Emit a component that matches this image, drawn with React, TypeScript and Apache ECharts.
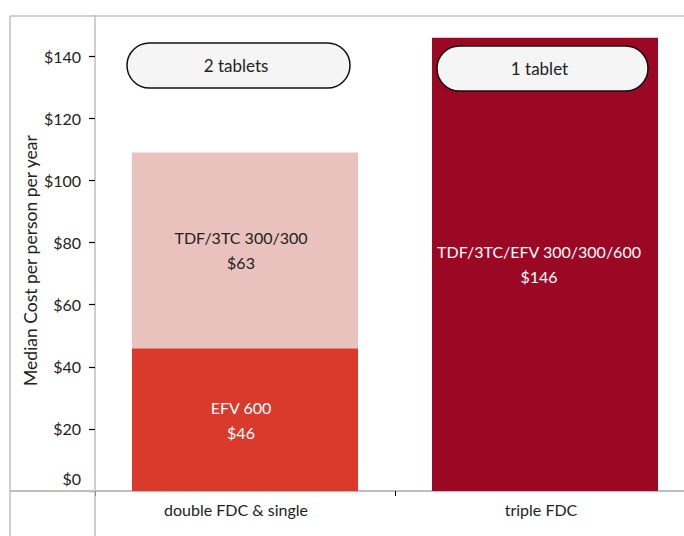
import React, { useEffect, useRef } from "react";
import * as echarts from "echarts";

const categories = ["double FDC & single", "triple FDC"];
const efvValues: (number | string)[] = [46, "-"];
const dualValues: (number | string)[] = [63, "-"];
const tripleValues: (number | string)[] = ["-", 146];
const seriesNames = ["EFV 600", "TDF/3TC 300/300", "TDF/3TC/EFV 300/300/600"];
const yTicks = [0, 20, 40, 60, 80, 100, 120, 140];
const pillTexts = ["2 tablets", "1 tablet"];

const FONT = "Lato, 'Open Sans', sans-serif";

export default function App() {
  const ref = useRef<HTMLDivElement>(null);
  useEffect(() => {
    document.body.style.margin = "0";
    const chart = echarts.init(ref.current!, null, { renderer: "svg" });
    const label = (color: string, dx: number) => ({
      show: true,
      position: "inside" as const,
      color,
      fontFamily: FONT,
      fontSize: 16,
      lineHeight: 25,
      offset: [dx, 0],
      formatter: (p: any) => `${p.seriesName}\n$${p.value}`,
    });
    const gray = "#bfbfbf";
    chart.setOption({
      animation: false,
      backgroundColor: "#ffffff",
      grid: {
        left: 95,
        width: 600,
        top: 16,
        bottom: 45,
        containLabel: false,
        outerBoundsMode: "none",
      },
      xAxis: {
        type: "category",
        data: [
          { value: categories[0], textStyle: { padding: [0, 18, 0, 0] } },
          { value: categories[1], textStyle: { padding: [0, 8, 0, 0] } },
        ],
        axisLine: { show: true, lineStyle: { color: gray, width: 2 } },
        axisTick: { show: true, length: 5, lineStyle: { color: "#000", width: 1 } },
        axisLabel: { color: "#222", fontFamily: FONT, fontSize: 16, margin: 10 },
      },
      yAxis: {
        type: "value",
        min: 0,
        max: 153,
        interval: 20,
        name: "Median Cost per person per year",
        nameLocation: "middle",
        nameGap: 56,
        nameMoveOverlap: false,
        nameTextStyle: { color: "#222", fontFamily: FONT, fontSize: 17.5, padding: [0, 0, 0, -14] },
        splitLine: { show: false },
        axisLine: { show: true, lineStyle: { color: gray, width: 1.5 } },
        axisTick: {
          show: true,
          length: 6,
          customValues: yTicks,
          lineStyle: { color: "#000", width: 1.2 },
        },
        axisLabel: {
          customValues: yTicks,
          color: "#222",
          fontFamily: FONT,
          fontSize: 16,
          margin: 14,
          formatter: (v: number) => (v === 0 ? "{z|$0}" : `$${v}`),
          rich: { z: { fontFamily: FONT, fontSize: 16, color: "#222", padding: [0, 0, 26, 0] } },
        },
      },
      series: [
        {
          name: seriesNames[0],
          type: "bar",
          stack: "total",
          barWidth: 226,
          data: efvValues,
          itemStyle: { color: "#da3a2c" },
          label: label("#ffffff", -4),
        },
        {
          name: seriesNames[1],
          type: "bar",
          stack: "total",
          barWidth: 226,
          data: dualValues,
          itemStyle: { color: "#e9c2bd" },
          label: label("#222222", -4),
        },
        {
          name: seriesNames[2],
          type: "bar",
          stack: "total",
          barWidth: 226,
          data: tripleValues,
          itemStyle: { color: "#9b0824" },
          label: label("#ffffff", -6),
        },
      ],
      graphic: [
        {
          type: "group",
          z: 100,
          children: [
            { type: "line", z: 100, shape: { x1: 10, y1: 16, x2: 684, y2: 16 }, style: { stroke: gray, lineWidth: 1.5 } },
            { type: "line", z: 100, shape: { x1: 10, y1: 16, x2: 10, y2: 536 }, style: { stroke: gray, lineWidth: 1.5 } },
            { type: "line", z: 100, shape: { x1: 95, y1: 491, x2: 95, y2: 536 }, style: { stroke: gray, lineWidth: 1.5 } },
            { type: "line", z: 100, shape: { x1: 10, y1: 491, x2: 95, y2: 491 }, style: { stroke: gray, lineWidth: 2 } },
            {
              type: "rect",
              z: 100,
              shape: { x: 127, y: 43, width: 223, height: 45, r: 22.5 },
              style: { fill: "#f5f5f5", stroke: "#111", lineWidth: 1.5 },
            },
            {
              type: "text",
              z: 101,
              x: 236,
              y: 65.5,
              style: { text: pillTexts[0], fill: "#222", font: `17px ${FONT}`, align: "center", verticalAlign: "middle" },
            },
            {
              type: "rect",
              z: 100,
              shape: { x: 437, y: 46, width: 211, height: 45, r: 22.5 },
              style: { fill: "#f5f5f5", stroke: "#111", lineWidth: 1.5 },
            },
            {
              type: "text",
              z: 101,
              x: 539.5,
              y: 68.5,
              style: { text: pillTexts[1], fill: "#222", font: `17px ${FONT}`, align: "center", verticalAlign: "middle" },
            },
          ],
        },
      ],
    });
    return () => chart.dispose();
  }, []);
  return <div ref={ref} style={{ position: "absolute", left: 0, top: 0, width: 684, height: 536 }} />;
}
